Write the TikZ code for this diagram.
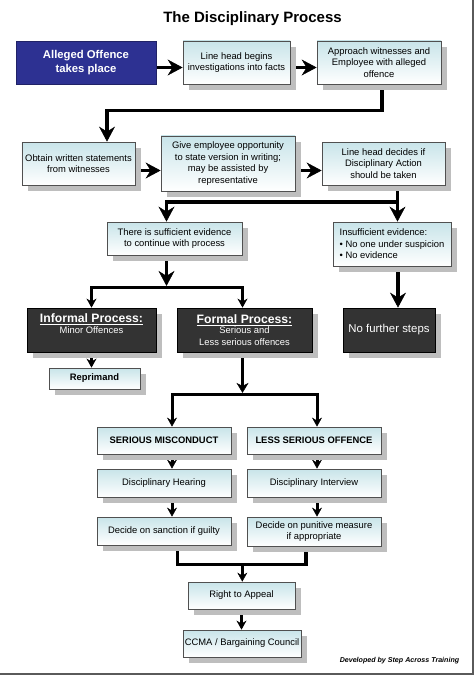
\documentclass[tikz,border=0pt]{standalone}
\usepackage{fontspec}
\setmainfont{Liberation Sans}
\usetikzlibrary{arrows.meta,shadows,calc}
\definecolor{boxtop}{RGB}{200,228,233}
\definecolor{boxborder}{RGB}{80,80,80}
\definecolor{shadowgray}{RGB}{190,190,190}
\definecolor{allegedblue}{RGB}{45,49,146}
\definecolor{darkfill}{RGB}{51,51,51}
\definecolor{frameline}{RGB}{90,90,90}
\pgfdeclarelayer{background}
\pgfsetlayers{background,main}
\newcommand\myul[1]{\setbox0=\hbox{#1}\rlap{\rule[-2.2bp]{\wd0}{1.2bp}}\box0}
\tikzset{
  wh/.style 2 args={minimum width=#1bp, minimum height=#2bp},
  shad/.style={drop shadow={shadow xshift=6bp,shadow yshift=-6bp,fill=shadowgray,opacity=1}},
  box/.style={draw=boxborder, line width=0.8bp, top color=boxtop, bottom color=white,
    align=center, inner sep=1.5bp, shad,
    font=\fontsize{9.4bp}{11.5bp}\selectfont},
  boldbox/.style={box, font=\fontsize{9.4bp}{11.5bp}\selectfont\bfseries},
  darkbox/.style={draw=black, line width=0.8bp, fill=darkfill, text=white, align=center,
    inner sep=1.5bp, shad, font=\fontsize{9.4bp}{11.5bp}\selectfont},
  allegedbox/.style={draw=allegedblue!70!black, line width=0.8bp, fill=allegedblue, text=white,
    align=center, font=\fontsize{11.3bp}{13.3bp}\selectfont\bfseries},
  mainline/.style={line width=3.5bp, line join=miter},
  bigarrow/.style={mainline, -{Stealth[length=15bp,width=16bp,inset=5bp,line width=0.5bp]}},
  medarrow/.style={mainline, -{Stealth[length=10bp,width=12bp,inset=3bp,line width=0.5bp]}},
  smallarrow/.style={line width=3bp, line join=miter, -{Stealth[length=9bp,width=10bp,inset=3bp,line width=0.5bp]}},
}
\begin{document}
\begin{tikzpicture}[x=1bp,y=-1bp]
\useasboundingbox (0,0) rectangle (474,675);
\draw[frameline, line width=2bp] (473,0) -- (473,674) -- (0,674);

\node[anchor=base, font=\fontsize{15bp}{18bp}\selectfont\bfseries] (title) at (252.5,22.7) {The Disciplinary Process};

\node[allegedbox, wh={140}{43}] (alleged) at (86,62.5) {Alleged Offence\\takes place};
\node[box, wh={107}{43}] (linehead) at (236.5,62.5) {Line head begins\\investigations into facts};
\node[box, wh={124}{43}] (approach) at (379,62.5) {Approach witnesses and\\Employee with alleged\\offence};
\node[box, wh={113}{43}] (obtain) at (78.5,163.5) {Obtain written statements\\from witnesses};
\node[box, wh={134}{55}] (give) at (228,163.5) {Give employee opportunity\\to state version in writing;\\may be assisted by\\representative};
\node[box, wh={123}{43}] (decides) at (383.5,163.5) {Line head decides if\\Disciplinary Action\\should be taken};
\node[box, wh={135}{33}] (sufficient) at (174.5,238.5) {There is sufficient evidence\\to continue with process};
\node[box, wh={118}{44}, align=left] (insufficient) at (392,244) {Insufficient evidence:\\• No one under suspicion\\• No evidence};

\node[darkbox, wh={129}{44}] (informal) at (91.5,330) {{\fontsize{12.2bp}{14bp}\selectfont\bfseries\myul{Informal Process:}}\\[-0.5bp]Minor Offences\\[-3bp]\strut};
\node[darkbox, wh={135}{44}] (formal) at (244.5,330) {{\fontsize{12.2bp}{14bp}\selectfont\bfseries\myul{Formal Process:}}\\[-1.5bp]Serious and\\Less serious offences};
\node[darkbox, wh={92}{44}, font=\fontsize{11.4bp}{13bp}\selectfont] (nofurther) at (389,330) {No further steps};
\node[boldbox, wh={91}{21}] (reprimand) at (94.5,378.5) {Reprimand};

\node[boldbox, wh={134}{27}] (serious) at (164,440.5) {SERIOUS MISCONDUCT};
\node[boldbox, wh={134}{27}] (less) at (314,440.5) {LESS SERIOUS OFFENCE};
\node[box, wh={134}{28}] (hearing) at (164,483) {Disciplinary Hearing};
\node[box, wh={134}{28}] (interview) at (314,483) {Disciplinary Interview};
\node[box, wh={134}{28}] (sanction) at (164,531) {Decide on sanction if guilty};
\node[box, wh={134}{29}] (punitive) at (314,531.5) {Decide on punitive measure\\if appropriate};
\node[box, wh={107}{27}] (appeal) at (241.5,595.5) {Right to Appeal};
\node[box, wh={118}{27}] (ccma) at (242,643.5) {CCMA / Bargaining Council};

\node[anchor=base east, font=\fontsize{7.1bp}{8.5bp}\selectfont\bfseries\itshape] (credit) at (462.7,662.5) {Developed by Step Across Training};

\begin{pgfonlayer}{background}
\draw[bigarrow] ([yshift=-5bp]alleged.east) -- ([yshift=-5bp]linehead.west);
\draw[bigarrow] ([yshift=-5bp]linehead.east) -- ([yshift=-5bp]approach.west);
\draw[bigarrow] ([xshift=3bp]approach.south) -- ++(0,26) -| ([xshift=28.5bp]obtain.north);
\draw[bigarrow] ([yshift=-7bp]obtain.east) -- ([yshift=-7bp]give.west);
\draw[bigarrow] ([yshift=-7bp]give.east) -- ([yshift=-7bp]decides.west);
\coordinate (d1) at ([xshift=14bp]decides.south);
\draw[bigarrow] (d1) -- ++(0,16.5) -| ([xshift=-8bp]sufficient.north);
\draw[bigarrow] (d1) -- (d1 |- insufficient.north);
\coordinate (j1) at ([xshift=-8bp,yshift=-32bp]sufficient.south);
\draw[bigarrow] ([xshift=-8bp]sufficient.south) -- ([yshift=1.5bp]j1);
\draw[smallarrow] (j1) -| (informal.north);
\draw[smallarrow] (j1) -| ([xshift=-2bp]formal.north);
\coordinate (i1) at ([xshift=6bp]insufficient.south);
\draw[bigarrow] (i1) -- (i1 |- nofurther.north);
\draw[smallarrow] (informal.south) -- (informal.south |- reprimand.north);
\coordinate (j2) at ([xshift=-2bp,yshift=-42bp]formal.south);
\draw[medarrow] ([xshift=-2bp]formal.south) -- ([yshift=1.5bp]j2);
\draw[smallarrow] (j2) -| ([xshift=8bp]serious.north);
\draw[smallarrow] (j2) -| ([xshift=3bp]less.north);
\draw[smallarrow] ([xshift=8bp]serious.south) -- ([xshift=8bp]hearing.north);
\draw[smallarrow] ([xshift=8bp]hearing.south) -- ([xshift=8bp]sanction.north);
\draw[smallarrow] ([xshift=3bp]less.south) -- ([xshift=3bp]interview.north);
\draw[smallarrow] ([xshift=3bp]interview.south) -- ([xshift=3bp]punitive.north);
\coordinate (j3) at ($(appeal.north)+(0.8,-17)$);
\draw[mainline] ([xshift=13.7bp]sanction.south) |- (j3) -| ([xshift=-8bp]punitive.south);
\draw[smallarrow] (j3) -- (j3 |- appeal.north);
\draw[smallarrow] (appeal.south) -- (appeal.south |- ccma.north);
\end{pgfonlayer}
\end{tikzpicture}
\end{document}
